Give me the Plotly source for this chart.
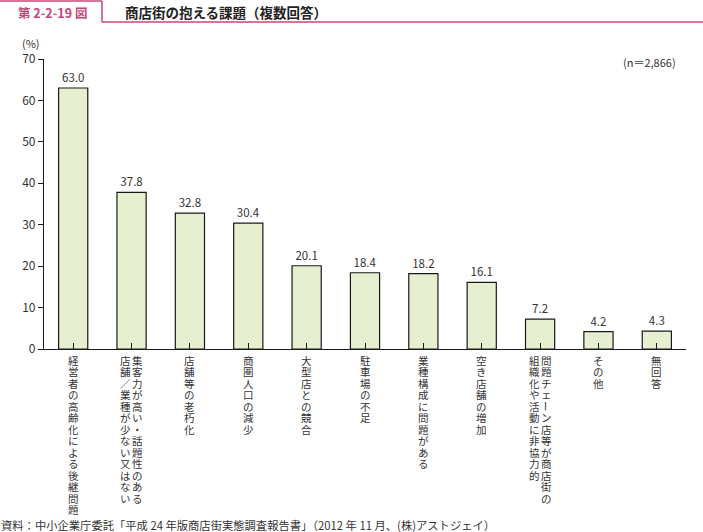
import plotly.graph_objects as go

categories = [
    "経営者の高齢化による後継問題",
    "集客力が高い・話題性のある店舗／業種が少ない又はない",
    "店舗等の老朽化",
    "商圏人口の減少",
    "大型店との競合",
    "駐車場の不足",
    "業種構成に問題がある",
    "空き店舗の増加",
    "問題チェーン店等が商店街の組織化や活動に非協力的",
    "その他",
    "無回答",
]
# vertical label columns (right column first, as read in vertical Japanese)
label_columns = [
    ["経営者の高齢化による後継問題"],
    ["集客力が高い・話題性のある", "店舗／業種が少ない又はない"],
    ["店舗等の老朽化"],
    ["商圏人口の減少"],
    ["大型店との競合"],
    ["駐車場の不足"],
    ["業種構成に問題がある"],
    ["空き店舗の増加"],
    ["問題チェーン店等が商店街の", "組織化や活動に非協力的"],
    ["その他"],
    ["無回答"],
]
values = [63.0, 37.8, 32.8, 30.4, 20.1, 18.4, 18.2, 16.1, 7.2, 4.2, 4.3]
y_ticks = [0, 10, 20, 30, 40, 50, 60, 70]

FONT = "Noto Sans CJK JP"
TXT = "#333333"
PINK = "#c8467a"

x_idx = list(range(len(categories)))

fig = go.Figure()
fig.add_trace(go.Bar(
    x=x_idx, y=values,
    marker=dict(color="#e6f0d0", line=dict(color="#1a1a1a", width=1.2)),
    width=0.5,
    text=[f"{v:.1f}" for v in values],
    textposition="outside",
    textfont=dict(family=FONT, size=11.5, color=TXT),
    cliponaxis=False,
    hoverinfo="skip",
))

annotations = []
pitch = 11.5
for i, cols in enumerate(label_columns):
    n = len(cols)
    for c, col in enumerate(cols):
        xoff = 0 if n == 1 else (6 if c == 0 else -6)
        for k, ch in enumerate(col):
            annotations.append(dict(
                x=i, y=0, xref="x", yref="y",
                text=ch, showarrow=False,
                xanchor="center", yanchor="middle",
                xshift=xoff, yshift=-(11 + k * pitch), borderpad=0,
                textangle=90 if ch == "ー" else 0,
                font=dict(family=FONT, size=10.5, color=TXT),
            ))

# header & notes (positions in page pixels, converted below)
annotations += [
    dict(x=52, y=532 - 12, xref="paper", yref="paper", text="<b>第 2-2-19 図</b>",
         showarrow=False, font=dict(family=FONT, size=12.5, color=PINK),
         xanchor="center", yanchor="middle"),
    dict(x=123, y=532 - 12, xref="paper", yref="paper", text="<b>商店街の抱える課題（複数回答）</b>",
         showarrow=False, font=dict(family=FONT, size=13.5, color="#222222"),
         xanchor="left", yanchor="middle"),
    dict(x=31, y=532 - 43, xref="paper", yref="paper", text="(%)",
         showarrow=False, font=dict(family=FONT, size=11, color=TXT),
         xanchor="center", yanchor="middle", borderpad=0),
    dict(x=678, y=532 - 62, xref="paper", yref="paper", text="(n＝2,866)",
         showarrow=False, font=dict(family=FONT, size=11, color=TXT),
         xanchor="right", yanchor="middle"),
    dict(x=0, y=532 - 525, xref="paper", yref="paper",
         text="資料：中小企業庁委託「平成 24 年版商店街実態調査報告書」（2012 年 11 月、(株)アストジェイ）",
         showarrow=False, font=dict(family=FONT, size=11.3, color=TXT),
         xanchor="left", yanchor="middle", borderpad=0),
]

L, R, T, B = 44, 17, 59, 183
W, H = 703, 532
pw, ph = W - L - R, H - T - B
for a in annotations:
    if a["xref"] == "paper":
        a["x"] = (a["x"] - L) / pw
        a["y"] = (a["y"] - B) / ph

shapes = [
    dict(type="line", xref="paper", yref="paper",
         x0=(0 - L) / pw, x1=(102 - L) / pw, y0=(H - 1 - B) / ph, y1=(H - 1 - B) / ph,
         line=dict(color=PINK, width=1.5)),
    dict(type="line", xref="paper", yref="paper",
         x0=(102 - L) / pw, x1=(102 - L) / pw, y0=(H - 1 - B) / ph, y1=(H - 22 - B) / ph,
         line=dict(color=PINK, width=1.5)),
    dict(type="line", xref="paper", yref="paper",
         x0=(102 - L) / pw, x1=(W - L) / pw, y0=(H - 22 - B) / ph, y1=(H - 22 - B) / ph,
         line=dict(color=PINK, width=1.5)),
]

fig.update_layout(
    width=W, height=H,
    margin=dict(l=L, r=R, t=T, b=B, pad=0),
    paper_bgcolor="white", plot_bgcolor="white",
    showlegend=False,
    bargap=0.5,
    annotations=annotations,
    shapes=shapes,
    xaxis=dict(
        range=[-0.5, len(categories) - 0.5],
        tickmode="array", tickvals=x_idx, ticktext=[""] * len(categories),
        tickson="boundaries", ticks="inside", ticklen=6, tickcolor="#1a1a1a", tickwidth=1.2,
        showline=True, linecolor="#1a1a1a", linewidth=1.2,
        showgrid=False, zeroline=False, fixedrange=True,
    ),
    yaxis=dict(
        range=[0, 70], tickmode="array", tickvals=y_ticks,
        ticks="outside", ticklen=5, tickcolor="#1a1a1a", tickwidth=1.2,
        showline=True, linecolor="#1a1a1a", linewidth=1.2,
        showgrid=False, zeroline=False,
        tickfont=dict(family=FONT, size=12, color=TXT),
        fixedrange=True,
    ),
)

fig.write_html("out.html")
